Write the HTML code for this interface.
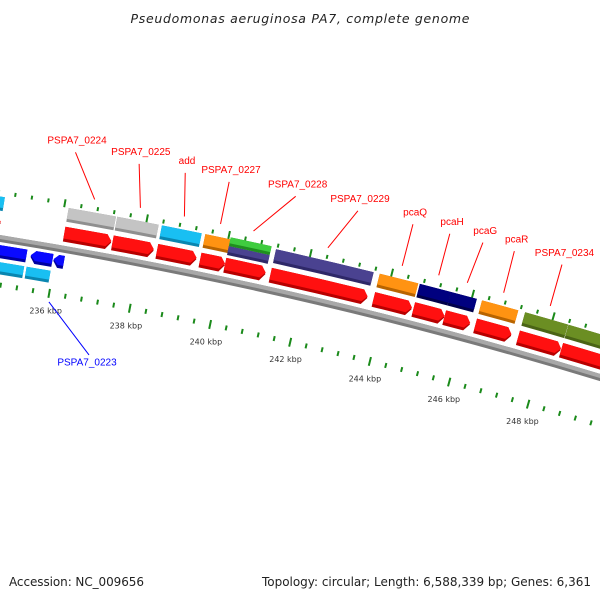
<!DOCTYPE html>
<html><head><meta charset="utf-8"><style>
html,body{margin:0;padding:0;background:#fff;}
svg{display:block;}
</style></head><body>
<svg id="map" width="600" height="600" viewBox="0 0 600 600" xmlns="http://www.w3.org/2000/svg">
<rect width="600" height="600" fill="#fff"/>
<text x="300" y="23" text-anchor="middle" font-family="DejaVu Sans, sans-serif" font-style="italic" font-size="12.5" fill="#222" textLength="339">Pseudomonas aeruginosa PA7, complete genome</text>
<text x="9" y="586" font-family="DejaVu Sans, sans-serif" font-size="12" fill="#222" textLength="135">Accession: NC_009656</text>
<text x="262" y="586" font-family="DejaVu Sans, sans-serif" font-size="12" fill="#222" textLength="329">Topology: circular; Length: 6,588,339 bp; Genes: 6,361</text>
<g id="layer"></g>
</svg>
<script>
// ---- data (kbp) ----
const fwdNames  = ['', 'PSPA7_0224','PSPA7_0225','add','PSPA7_0227','PSPA7_0228','PSPA7_0229','pcaQ','pcaH','pcaG','pcaR','PSPA7_0234',''];
const fwdStart  = [233.3, 236.11, 237.29, 238.38, 239.44, 240.05, 241.17, 243.72, 244.71, 245.48, 246.25, 247.32, 248.40];
const fwdEnd    = [234.56, 237.26, 238.30, 239.35, 240.05, 241.05, 243.57, 244.67, 245.48, 246.12, 247.15, 248.39, 250.6];
const fwdColor  = ['cyan','gray','gray','cyan','orange','green','purple','orange','navy','navy','orange','olive','olive'];
const labelKbp  = [null, 236.04, 237.57, 238.68, 239.74, 241.35, 242.86, 244.20, 245.10, 245.91, 246.68, 247.85, null];
const revNames  = ['', '', 'PSPA7_0223'];
const revStart  = [233.6, 235.40, 235.96];
const revEnd    = [235.30, 235.94, 236.22];
const revCogStart = [233.6, 235.35];
const revCogEnd   = [235.29, 235.94];
const tickLabels = [234, 236, 238, 240, 242, 244, 246, 248];

// ---- geometry ----
const CX = -724, CY = 4728, A0 = 9.89, RATE = 0.5217;
const NS = 'http://www.w3.org/2000/svg';
const layer = document.getElementById('layer');
const palette = {
  gray:['#c4c4c4','#8f8f8f'], cyan:['#19bff2','#0a86b0'], orange:['#ff9312','#b86400'],
  green:['#3fcc3f','#1f8f1f'], purple:['#4a4290','#2e2868'], navy:['#00007f','#00004a'],
  olive:['#6b8e23','#4a6416'], red:['#ff1010','#b80000'], blue:['#0a0aff','#0000a0']
};
function ang(k){ return (A0 + (k-236)*RATE) * Math.PI/180; }
function pt(k,r){ const a=ang(k); return [CX + r*Math.sin(a), CY - r*Math.cos(a)]; }
function f(p){ return p[0].toFixed(2)+' '+p[1].toFixed(2); }
function band(k1,k2,r1,r2){
  return 'M'+f(pt(k1,r2))+' A'+r2+' '+r2+' 0 0 1 '+f(pt(k2,r2))+' L'+f(pt(k2,r1))+' A'+r1+' '+r1+' 0 0 0 '+f(pt(k1,r1))+' Z';
}
function arrow(k1,k2,r1,r2,fwd){
  const h = 5/((r1+r2)/2) * 180/Math.PI / RATE;
  const m=(r1+r2)/2;
  if(fwd){
    const kb=Math.max(k1,k2-h);
    return 'M'+f(pt(k1,r2))+' A'+r2+' '+r2+' 0 0 1 '+f(pt(kb,r2))+' L'+f(pt(k2,m))+' L'+f(pt(kb,r1))+' A'+r1+' '+r1+' 0 0 0 '+f(pt(k1,r1))+' Z';
  } else {
    const kb=Math.min(k2,k1+h);
    return 'M'+f(pt(k1,m))+' L'+f(pt(kb,r2))+' A'+r2+' '+r2+' 0 0 1 '+f(pt(k2,r2))+' L'+f(pt(k2,r1))+' A'+r1+' '+r1+' 0 0 0 '+f(pt(kb,r1))+' Z';
  }
}
function path(d,fill,name){
  const p=document.createElementNS(NS,'path');
  p.setAttribute('d',d); p.setAttribute('fill',fill);
  
  
  layer.appendChild(p); return p;
}
function shaded(kind,k1,k2,r1,r2,col,name,fwd){
  const c=palette[col];
  if(kind==='band'){ path(band(k1,k2,r1,r2),c[1],name); path(band(k1,k2,r1+3,r2),c[0],name+'-face'); }
  else { path(arrow(k1,k2,r1,r2,fwd),c[1],name); path(arrow(k1,k2,r1+3,r2,fwd),c[0],name+'-face'); }
}

// backbone
path(band(232,252,4544,4551),'#7a7a7a','backbone');
path(band(232,252,4547,4551),'#a8a8a8','backbone-face');

// ticks
for(let i=0;i<=45;i++){
  const k=233.2+i*0.4;
  const major = Math.abs((k/2)-Math.round(k/2))<1e-6;
  [[4500,4503],[4592,4594]].forEach((rr,j)=>{
    const lo = major? rr[0]-3 : rr[0]-1, hi = major? rr[1]+3 : rr[1]+1;
    const a=pt(k,lo), b=pt(k,hi);
    const l=document.createElementNS(NS,'line');
    l.setAttribute('x1',a[0]); l.setAttribute('y1',a[1]); l.setAttribute('x2',b[0]); l.setAttribute('y2',b[1]);
    l.setAttribute('stroke','#1a8a1a'); l.setAttribute('stroke-width', 2);
    
    
    layer.appendChild(l);
  });
}
tickLabels.forEach(v=>{
  const p=pt(v,4481);
  const t=document.createElementNS(NS,'text');
  t.setAttribute('x',p[0]); t.setAttribute('y',p[1]);
  t.setAttribute('text-anchor','middle'); t.setAttribute('font-family','DejaVu Sans, sans-serif');
  t.setAttribute('font-size','8'); t.setAttribute('fill','#333');
  t.textContent=v+' kbp';
  
  
  layer.appendChild(t);
});

// forward strand
fwdStart.forEach((s,i)=>{
  const e=fwdEnd[i];
  shaded('arrow',s,e,4555,4570,'red','cds-arrow',true);
  if(fwdColor[i]==='green'){
    shaded('band',s,e,4573,4582,'purple','gene-block');
    shaded('band',s,e,4582,4591,'green','gene-block');
  } else {
    shaded('band',s,e,4575,4589,fwdColor[i],'gene-block');
  }
  if(labelKbp[i]!==null){
    const mid=(s+e)/2, a=pt(labelKbp[i],4645), b=pt(mid,4602);
    const l=document.createElementNS(NS,'line');
    l.setAttribute('x1',a[0]); l.setAttribute('y1',a[1]); l.setAttribute('x2',b[0]); l.setAttribute('y2',b[1]);
    l.setAttribute('stroke','#ff0000'); l.setAttribute('stroke-width',1);
    
    
    layer.appendChild(l);
    const p=pt(labelKbp[i],4654);
    const t=document.createElementNS(NS,'text');
    t.setAttribute('x',p[0]); t.setAttribute('y',p[1]);
    t.setAttribute('text-anchor','middle'); t.setAttribute('font-family','Liberation Sans, sans-serif');
    t.setAttribute('font-size','10'); t.setAttribute('fill','#ff0000');
    t.textContent=fwdNames[i];
    
    
    layer.appendChild(t);
  }
});

// reverse strand
revStart.forEach((s,i)=>{ shaded('arrow',s,revEnd[i],4528,4541,'blue','reverse-cds-arrow',false); });
revCogStart.forEach((s,i)=>{ shaded('band',s,revCogEnd[i],4512,4524,'cyan','reverse-gene-block'); });
(function(){
  const i=2, mid=(revStart[i]+revEnd[i])/2;
  const a=pt(mid-0.06,4493), b=pt(237.23,4448);
  const l=document.createElementNS(NS,'line');
  l.setAttribute('x1',a[0]); l.setAttribute('y1',a[1]); l.setAttribute('x2',b[0]); l.setAttribute('y2',b[1]);
  l.setAttribute('stroke','#0000ff'); l.setAttribute('stroke-width',1);
  
  
  layer.appendChild(l);
  const p=pt(237.23,4437);
  const t=document.createElementNS(NS,'text');
  t.setAttribute('x',p[0]); t.setAttribute('y',p[1]);
  t.setAttribute('text-anchor','middle'); t.setAttribute('font-family','Liberation Sans, sans-serif');
  t.setAttribute('font-size','10'); t.setAttribute('fill','#0000ff');
  t.textContent=revNames[i];
  
  
  layer.appendChild(t);
})();
</script>
</body></html>
